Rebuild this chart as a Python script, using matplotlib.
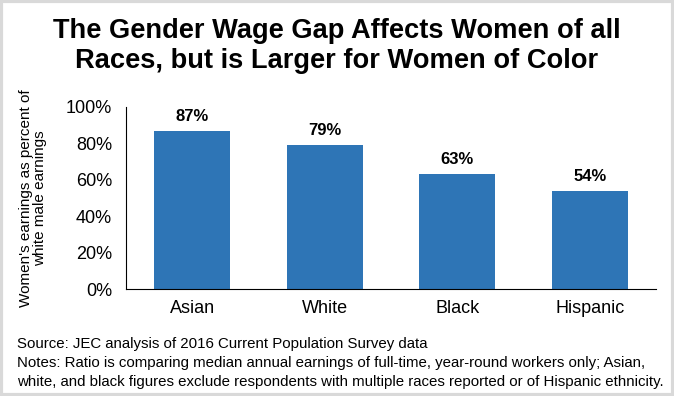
import matplotlib
matplotlib.use("Agg")
import matplotlib.pyplot as plt
from matplotlib.patches import Rectangle
from matplotlib.ticker import PercentFormatter

plt.rcParams["font.family"] = ["Liberation Sans", "DejaVu Sans"]

races = ["Asian", "White", "Black", "Hispanic"]
ratios = [0.87, 0.79, 0.63, 0.54]
y_ticks = [0, 0.2, 0.4, 0.6, 0.8, 1.0]

title = "The Gender Wage Gap Affects Women of all\nRaces, but is Larger for Women of Color"
y_label = "Women's earnings as percent of\nwhite male earnings"
footer = [
    "Source: JEC analysis of 2016 Current Population Survey data",
    "Notes: Ratio is comparing median annual earnings of full-time, year-round workers only; Asian,",
    "white, and black figures exclude respondents with multiple races reported or of Hispanic ethnicity.",
]

W, H = 674, 396
fig = plt.figure(figsize=(W / 100, H / 100), dpi=100)
ax = fig.add_axes([126 / W, 1 - 289 / H, 530 / W, 182 / H])

ax.bar(range(len(races)), ratios, width=0.57, color="#2E75B6")
for i, v in enumerate(ratios):
    ax.annotate(f"{v:.0%}", (i, v), xytext=(0, 5), textcoords="offset points",
                ha="center", va="bottom", fontsize=12, fontweight="bold")

ax.set_xlim(-0.5, len(races) - 0.5)
ax.set_ylim(0, 1.0)
ax.set_yticks(y_ticks)
ax.yaxis.set_major_formatter(PercentFormatter(1.0, decimals=0))
ax.set_xticks(range(len(races)))
ax.set_xticklabels(races)
ax.tick_params(axis="both", length=0, labelsize=13, pad=10)
ax.tick_params(axis="x", pad=8)
for s in ["top", "right"]:
    ax.spines[s].set_visible(False)
ax.spines["left"].set_color("black")
ax.spines["bottom"].set_color("black")

fig.text(33 / W, 1 - 198 / H, y_label, rotation=90, ha="center", va="center",
         fontsize=11, linespacing=1.0)

fig.text(0.5, 1 - 46 / H, title, ha="center", va="center", fontsize=19.6,
         fontweight="bold", linespacing=1.15)

for k, line in enumerate(footer):
    fig.text(17 / W, 1 - (344 + 19 * k) / H, line, ha="left", va="center",
             fontsize=10.85)

fig.patches.append(Rectangle((0.002, 0.003), 0.996, 0.994, transform=fig.transFigure,
                             fill=False, edgecolor="#D9D9D9", linewidth=3))

fig.savefig("out.png", dpi=100)
